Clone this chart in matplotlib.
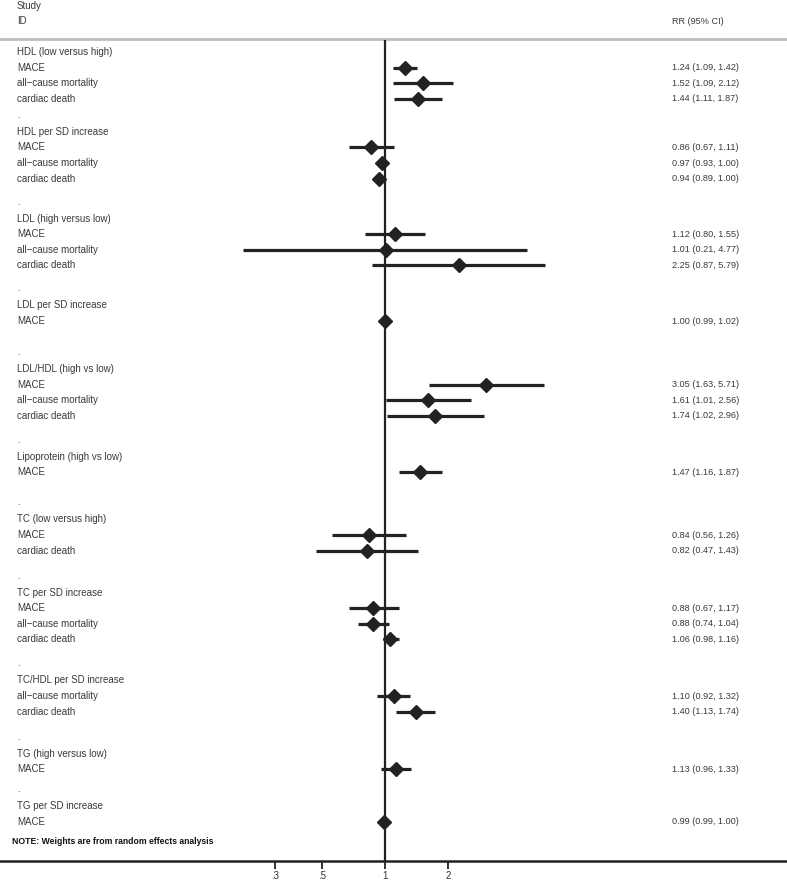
import matplotlib
matplotlib.use("Agg")
import matplotlib.pyplot as plt
import matplotlib.transforms as mtransforms
import numpy as np

# groups of outcomes: header, outcome names, RR, lower and upper CI
group_names = [
    "HDL (low versus high)",
    "HDL per SD increase",
    "LDL (high versus low)",
    "LDL per SD increase",
    "LDL/HDL (high vs low)",
    "Lipoprotein (high vs low)",
    "TC (low versus high)",
    "TC per SD increase",
    "TC/HDL per SD increase",
    "TG (high versus low)",
    "TG per SD increase",
]
outcomes = [
    ["MACE", "all\u2212cause mortality", "cardiac death"],
    ["MACE", "all\u2212cause mortality", "cardiac death"],
    ["MACE", "all\u2212cause mortality", "cardiac death"],
    ["MACE"],
    ["MACE", "all\u2212cause mortality", "cardiac death"],
    ["MACE"],
    ["MACE", "cardiac death"],
    ["MACE", "all\u2212cause mortality", "cardiac death"],
    ["all\u2212cause mortality", "cardiac death"],
    ["MACE"],
    ["MACE"],
]
rr = [
    [1.24, 1.52, 1.44],
    [0.86, 0.97, 0.94],
    [1.12, 1.01, 2.25],
    [1.00],
    [3.05, 1.61, 1.74],
    [1.47],
    [0.84, 0.82],
    [0.88, 0.88, 1.06],
    [1.10, 1.40],
    [1.13],
    [0.99],
]
lower = [
    [1.09, 1.09, 1.11],
    [0.67, 0.93, 0.89],
    [0.80, 0.21, 0.87],
    [0.99],
    [1.63, 1.01, 1.02],
    [1.16],
    [0.56, 0.47],
    [0.67, 0.74, 0.98],
    [0.92, 1.13],
    [0.96],
    [0.99],
]
upper = [
    [1.42, 2.12, 1.87],
    [1.11, 1.00, 1.00],
    [1.55, 4.77, 5.79],
    [1.02],
    [5.71, 2.56, 2.96],
    [1.87],
    [1.26, 1.43],
    [1.17, 1.04, 1.16],
    [1.32, 1.74],
    [1.33],
    [1.00],
]
tick_values = [0.3, 0.5, 1, 2]
tick_labels = [".3", ".5", "1", "2"]

W, H = 787, 883
fig = plt.figure(figsize=(W / 100, H / 100), dpi=100)
axis_y = 861
ax = fig.add_axes([0, (H - axis_y) / H, 1, axis_y / H])
ax.set_xscale("log")
# x=1 sits at pixel 385, 91 px per log unit
ax.set_xlim(np.exp(-385 / 91), np.exp((W - 385) / 91))
ax.set_ylim(axis_y, 0)

fam = ["Liberation Sans", "DejaVu Sans"]
txt = dict(fontsize=7, color="#3a3a3a", family=fam, va="center")
rtxt = dict(txt, fontsize=6.6)
trans = mtransforms.blended_transform_factory(ax.transAxes, ax.transData)
xl, xr = 17 / W, 672 / W
mark = "#222222"

ax.text(xl, 6, "Study", transform=trans, **txt)
ax.text(xl, 21, "ID", transform=trans, **txt)
ax.text(xr, 21, "RR (95% CI)", transform=trans, **rtxt)
ax.axhline(39, color="#bdbdbd", lw=2, zorder=1)

# vertical spacing (pixels) – the original has uneven gaps between groups
y = 52
row_step, dot_step = 15.6, 15
group_gaps = [18, 25, 25, 33, 26, 32, 27, 26, 27, 22]
for gi, name in enumerate(group_names):
    if gi > 0:
        y += group_gaps[gi - 1]
        ax.text(xl, y - 2, ".", transform=trans, **txt)
        y += dot_step
    ax.text(xl, y, name, transform=trans, **txt)
    for lab, est, lo, hi in zip(outcomes[gi], rr[gi], lower[gi], upper[gi]):
        y += row_step
        ax.text(xl, y, lab, transform=trans, **txt)
        ax.text(xr, y, f"{est:.2f} ({lo:.2f}, {hi:.2f})", transform=trans, **rtxt)
        ax.plot([lo, hi], [y, y], color=mark, lw=2.3, solid_capstyle="butt", zorder=3)
        ax.plot(est, y, marker="D", ms=7.3, color=mark, zorder=4)

ax.text(12 / W, y + 20, "NOTE: Weights are from random effects analysis", transform=trans,
        fontsize=6.2, fontweight="bold", color="#111111", family=fam, va="center")

ax.vlines(1, 40, axis_y, color=mark, lw=1.6, zorder=2)

for s in ["top", "right", "left"]:
    ax.spines[s].set_visible(False)
ax.spines["bottom"].set_linewidth(1.8)
ax.spines["bottom"].set_color(mark)
ax.set_yticks([])
ax.set_xticks(tick_values)
ax.set_xticklabels(tick_labels)
ax.minorticks_off()
ax.tick_params(axis="x", direction="out", length=6, width=1.3, color=mark, pad=1.5,
               labelsize=7, labelcolor="#333333")
for t in ax.get_xticklabels():
    t.set_family(fam)

fig.savefig("out.png", dpi=100)
